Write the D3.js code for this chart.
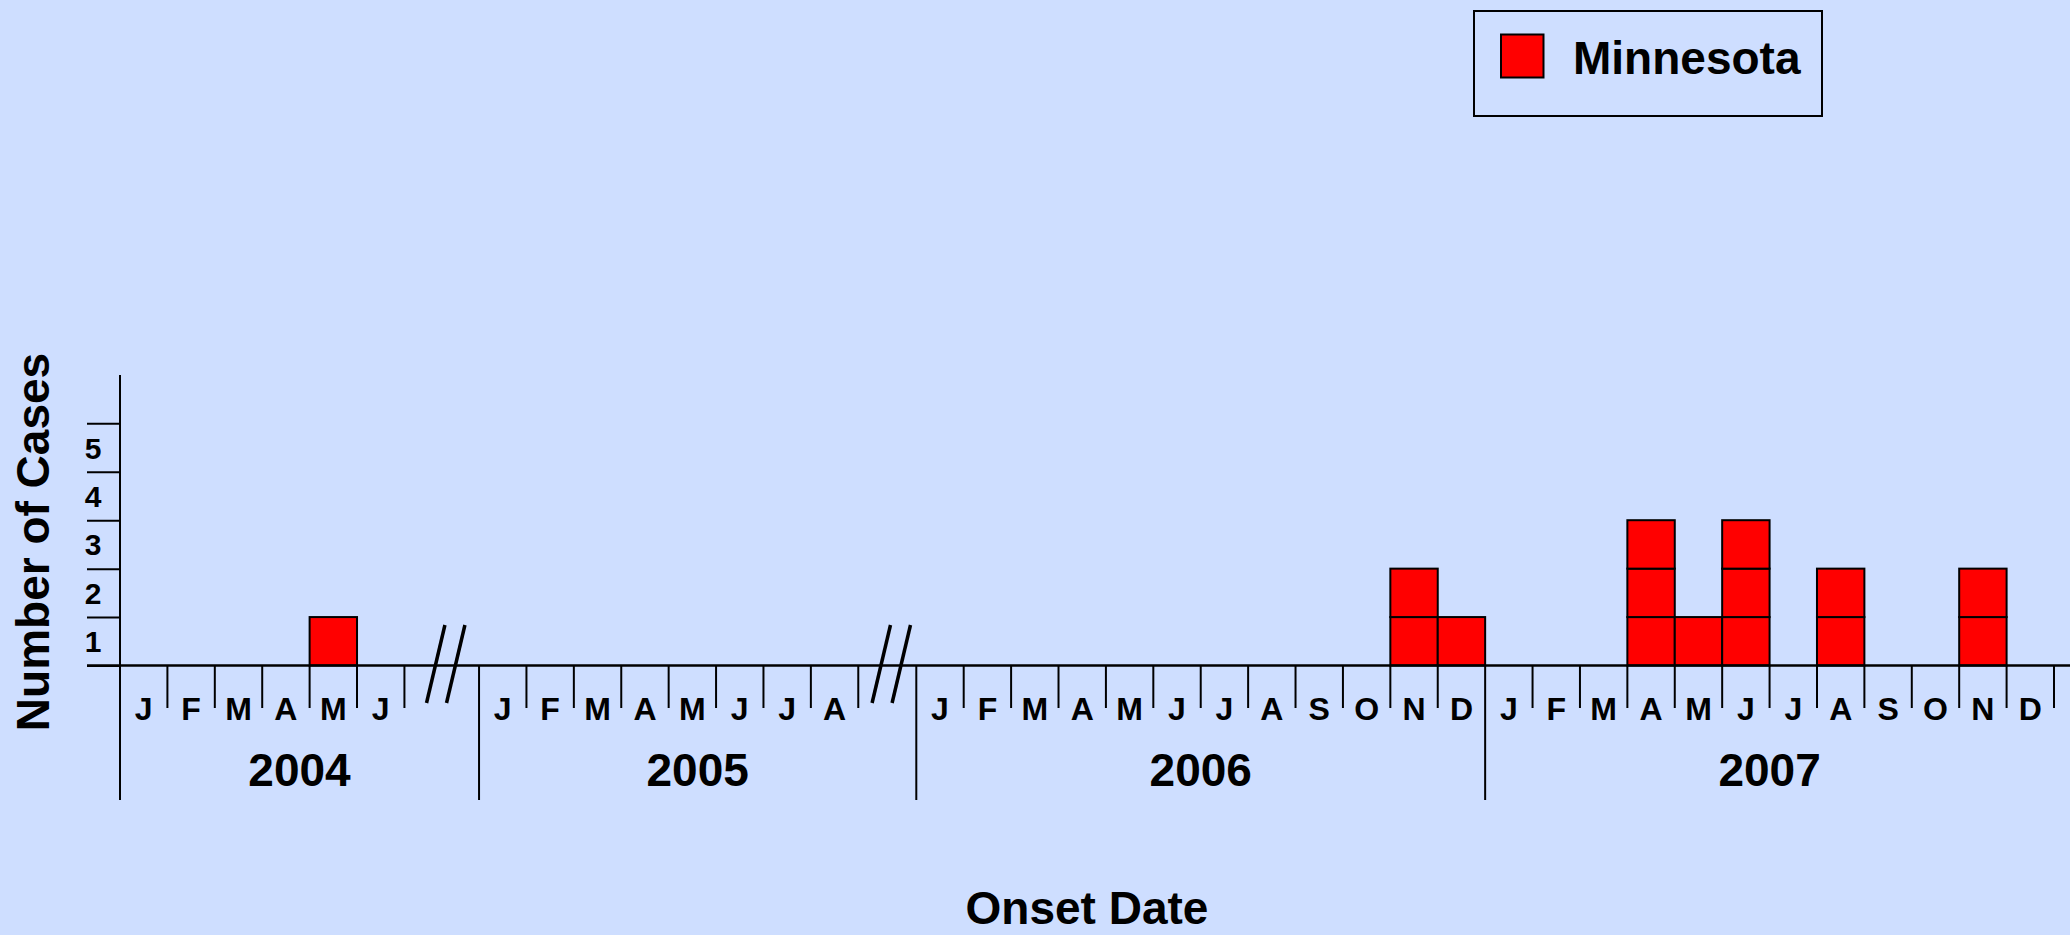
<!DOCTYPE html>
<html>
<head>
<meta charset="utf-8">
<script src="https://cdn.jsdelivr.net/npm/d3@7"></script>
<style>
  body { margin: 0; background: #cedeff; }
  svg { display: block; font-family: "Liberation Sans", Arial, sans-serif; font-weight: bold; }
</style>
</head>
<body>
<script>
// data
var years = ['2004', '2005', '2006', '2007'];
var monthLabels = [
  ['J', 'F', 'M', 'A', 'M', 'J'],
  ['J', 'F', 'M', 'A', 'M', 'J', 'J', 'A'],
  ['J', 'F', 'M', 'A', 'M', 'J', 'J', 'A', 'S', 'O', 'N', 'D'],
  ['J', 'F', 'M', 'A', 'M', 'J', 'J', 'A', 'S', 'O', 'N', 'D']
];
var caseYears  = ['2004', '2006', '2006', '2007', '2007', '2007', '2007', '2007'];
var caseMonths = [4, 10, 11, 3, 4, 5, 7, 10]; // 0 = January
var caseCounts = [1, 2, 1, 3, 1, 3, 2, 2];
var yTicks = [1, 2, 3, 4, 5];
var seriesName = 'Minnesota';

var w = 2070, h = 935;
var fill = '#ff0000';
// gap (in months) drawn after each year segment where the axis is broken
var gapAfter = [1.574, 1.224, 0, 0];

// slot start for each year segment
var segStart = [], acc = 0;
years.forEach(function(yr, i) {
  segStart.push(acc);
  acc += monthLabels[i].length + gapAfter[i];
});
var totalSlots = acc;

var x = d3.scaleLinear().domain([0, totalSlots]).range([120, 2054]);
var y = d3.scaleLinear().domain([0, 6]).range([665.5, 374.9]);
var mw = x(1) - x(0);
var bottomY = 800, tickBottom = 708;

var svg = d3.select('body').append('svg')
    .attr('width', w)
    .attr('height', h);

// month slots
var months = [];
years.forEach(function(yr, i) {
  monthLabels[i].forEach(function(m, j) {
    months.push({ year: yr, seg: i, idx: j, label: m, slot: segStart[i] + j });
  });
});

// cells, one square per case
var cells = [];
caseYears.forEach(function(yr, i) {
  var seg = years.indexOf(yr);
  for (var k = 0; k < caseCounts[i]; k++) {
    cells.push({ slot: segStart[seg] + caseMonths[i], k: k });
  }
});

svg.append('g').selectAll('rect')
    .data(cells)
    .enter().append('rect')
    .attr('x', function(d) { return x(d.slot); })
    .attr('y', function(d) { return y(d.k + 1); })
    .attr('width', mw)
    .attr('height', function(d) { return y(d.k) - y(d.k + 1); })
    .attr('fill', fill)
    .attr('stroke', '#000')
    .attr('stroke-width', 2);

// y axis ticks (no labels; labels sit between ticks)
var yAxis = d3.axisLeft(y).tickValues([0].concat(yTicks)).tickSize(33).tickFormat('');
var gy = svg.append('g').attr('transform', 'translate(' + x(0) + ',0)').call(yAxis);
gy.select('.domain').remove();
gy.selectAll('.tick line').attr('stroke', '#000').attr('stroke-width', 2);

svg.append('g').selectAll('text')
    .data(yTicks)
    .enter().append('text')
    .attr('x', 93)
    .attr('y', function(d) { return y(d - 0.5) + 11; })
    .attr('text-anchor', 'middle')
    .attr('font-size', 30)
    .text(function(d) { return d; });

// y axis line
svg.append('line')
    .attr('x1', x(0)).attr('x2', x(0))
    .attr('y1', y(6)).attr('y2', bottomY)
    .attr('stroke', '#000').attr('stroke-width', 2);

// baseline
svg.append('line')
    .attr('x1', x(0) - 33).attr('x2', w)
    .attr('y1', y(0)).attr('y2', y(0))
    .attr('stroke', '#000').attr('stroke-width', 2.5);

// month ticks at the end of each month
svg.append('g').selectAll('line')
    .data(months)
    .enter().append('line')
    .attr('x1', function(d) { return x(d.slot + 1); })
    .attr('x2', function(d) { return x(d.slot + 1); })
    .attr('y1', y(0))
    .attr('y2', function(d) {
      var last = d.idx === monthLabels[d.seg].length - 1;
      return (last && gapAfter[d.seg] === 0 && d.seg < years.length - 1) ? bottomY : tickBottom;
    })
    .attr('stroke', '#000')
    .attr('stroke-width', 2);

// year separators after a break
svg.append('g').selectAll('line')
    .data(years.filter(function(yr, i) { return i > 0 && gapAfter[i - 1] > 0; }))
    .enter().append('line')
    .attr('x1', function(d) { return x(segStart[years.indexOf(d)]); })
    .attr('x2', function(d) { return x(segStart[years.indexOf(d)]); })
    .attr('y1', y(0))
    .attr('y2', bottomY)
    .attr('stroke', '#000')
    .attr('stroke-width', 2);

// month labels
svg.append('g').selectAll('text')
    .data(months)
    .enter().append('text')
    .attr('x', function(d) { return x(d.slot + 0.5); })
    .attr('y', 720)
    .attr('text-anchor', 'middle')
    .attr('font-size', 32)
    .text(function(d) { return d.label; });

// year labels centred between separators
svg.append('g').selectAll('text')
    .data(years)
    .enter().append('text')
    .attr('x', function(d, i) {
      var a = segStart[i];
      var b = i < years.length - 1 ? segStart[i + 1] : totalSlots;
      return x((a + b) / 2);
    })
    .attr('y', 786)
    .attr('text-anchor', 'middle')
    .attr('font-size', 46)
    .text(function(d) { return d; });

// axis break marks
var breaks = [];
years.forEach(function(yr, i) {
  if (gapAfter[i] > 0) breaks.push(segStart[i] + monthLabels[i].length + gapAfter[i] / 2);
});
var bk = svg.append('g').selectAll('g')
    .data(breaks)
    .enter().append('g')
    .attr('transform', function(d) { return 'translate(' + (x(d) + 4) + ',' + (y(0) - 1.5) + ')'; });
[-10, 10].forEach(function(dx) {
  bk.append('line')
      .attr('x1', dx + 9.2).attr('y1', -39)
      .attr('x2', dx - 9.2).attr('y2', 39)
      .attr('stroke', '#000')
      .attr('stroke-width', 3.5);
});

// axis titles
svg.append('text')
    .attr('transform', 'translate(49,542) rotate(-90)')
    .attr('text-anchor', 'middle')
    .attr('font-size', 46)
    .text('Number of Cases');

svg.append('text')
    .attr('x', (x(0) + x(totalSlots)) / 2)
    .attr('y', 924)
    .attr('text-anchor', 'middle')
    .attr('font-size', 46)
    .text('Onset Date');

// legend
var lg = svg.append('g').attr('transform', 'translate(1474,11)');
lg.append('rect')
    .attr('width', 348).attr('height', 105)
    .attr('fill', 'none').attr('stroke', '#000').attr('stroke-width', 2);
lg.append('rect')
    .attr('x', 27).attr('y', 23.5)
    .attr('width', 42.5).attr('height', 43)
    .attr('fill', fill).attr('stroke', '#000').attr('stroke-width', 2);
lg.append('text')
    .attr('x', 99).attr('y', 63)
    .attr('font-size', 46)
    .text(seriesName);
</script>
</body>
</html>
